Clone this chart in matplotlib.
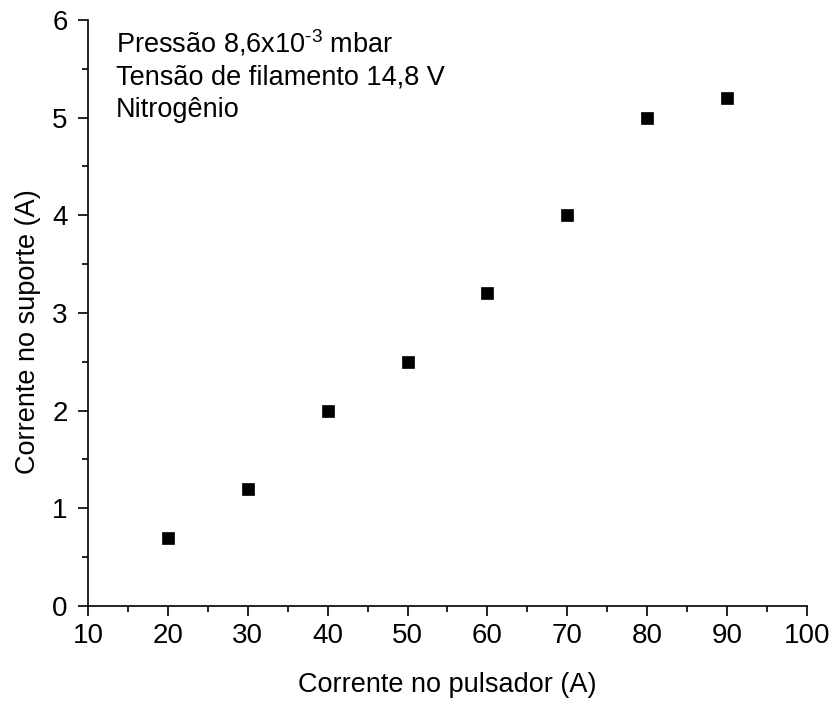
import matplotlib
matplotlib.use('Agg')
import matplotlib.pyplot as plt
from matplotlib.ticker import MultipleLocator

plt.rcParams['font.family'] = ['Liberation Sans', 'DejaVu Sans']
plt.rcParams['mathtext.fontset'] = 'custom'
plt.rcParams['mathtext.rm'] = 'Liberation Sans'
plt.rcParams['mathtext.default'] = 'regular'

# dados
corrente_pulsador = [20, 30, 40, 50, 60, 70, 80, 90]
corrente_suporte = [0.7, 1.2, 2.0, 2.5, 3.2, 4.0, 5.0, 5.2]
info = [r'Pressão 8,6x10$^{\text{-}3}$ mbar', 'Tensão de filamento 14,8 V', 'Nitrogênio']

fig = plt.figure(figsize=(8.34, 7.02), dpi=100)
ax = fig.add_axes([0.1055, 0.1368, 0.8621, 0.8347])

ax.plot(corrente_pulsador, corrente_suporte, 's', color='black',
        markersize=8, markeredgewidth=0.5, linestyle='none')

ax.set_xlim(10, 100)
ax.set_ylim(0, 6)
ax.xaxis.set_major_locator(MultipleLocator(10))
ax.xaxis.set_minor_locator(MultipleLocator(5))
ax.yaxis.set_major_locator(MultipleLocator(1))
ax.yaxis.set_minor_locator(MultipleLocator(0.5))

for s in ['top', 'right']:
    ax.spines[s].set_visible(False)
for s in ['left', 'bottom']:
    ax.spines[s].set_linewidth(1.2)

ax.tick_params(which='major', direction='out', length=7.5, width=1.2, labelsize=20)
ax.tick_params(which='minor', direction='out', length=4.5, width=1.2)
ax.tick_params(axis='x', which='major', pad=5)
ax.tick_params(axis='y', which='major', pad=7)

ax.set_xlabel('Corrente no pulsador (A)', fontsize=19.5)
ax.set_ylabel('Corrente no suporte (A)', fontsize=19.5)
ax.xaxis.set_label_coords(0.5, -0.112)
ax.yaxis.set_label_coords(-0.0654, 0.4676)

for i, linha in enumerate(info):
    ax.text(0.039, 0.9437 - i * 0.0546, linha, transform=ax.transAxes,
            fontsize=19.5, va='baseline', ha='left')

fig.savefig('out.png', dpi=100)
plt.close(fig)
